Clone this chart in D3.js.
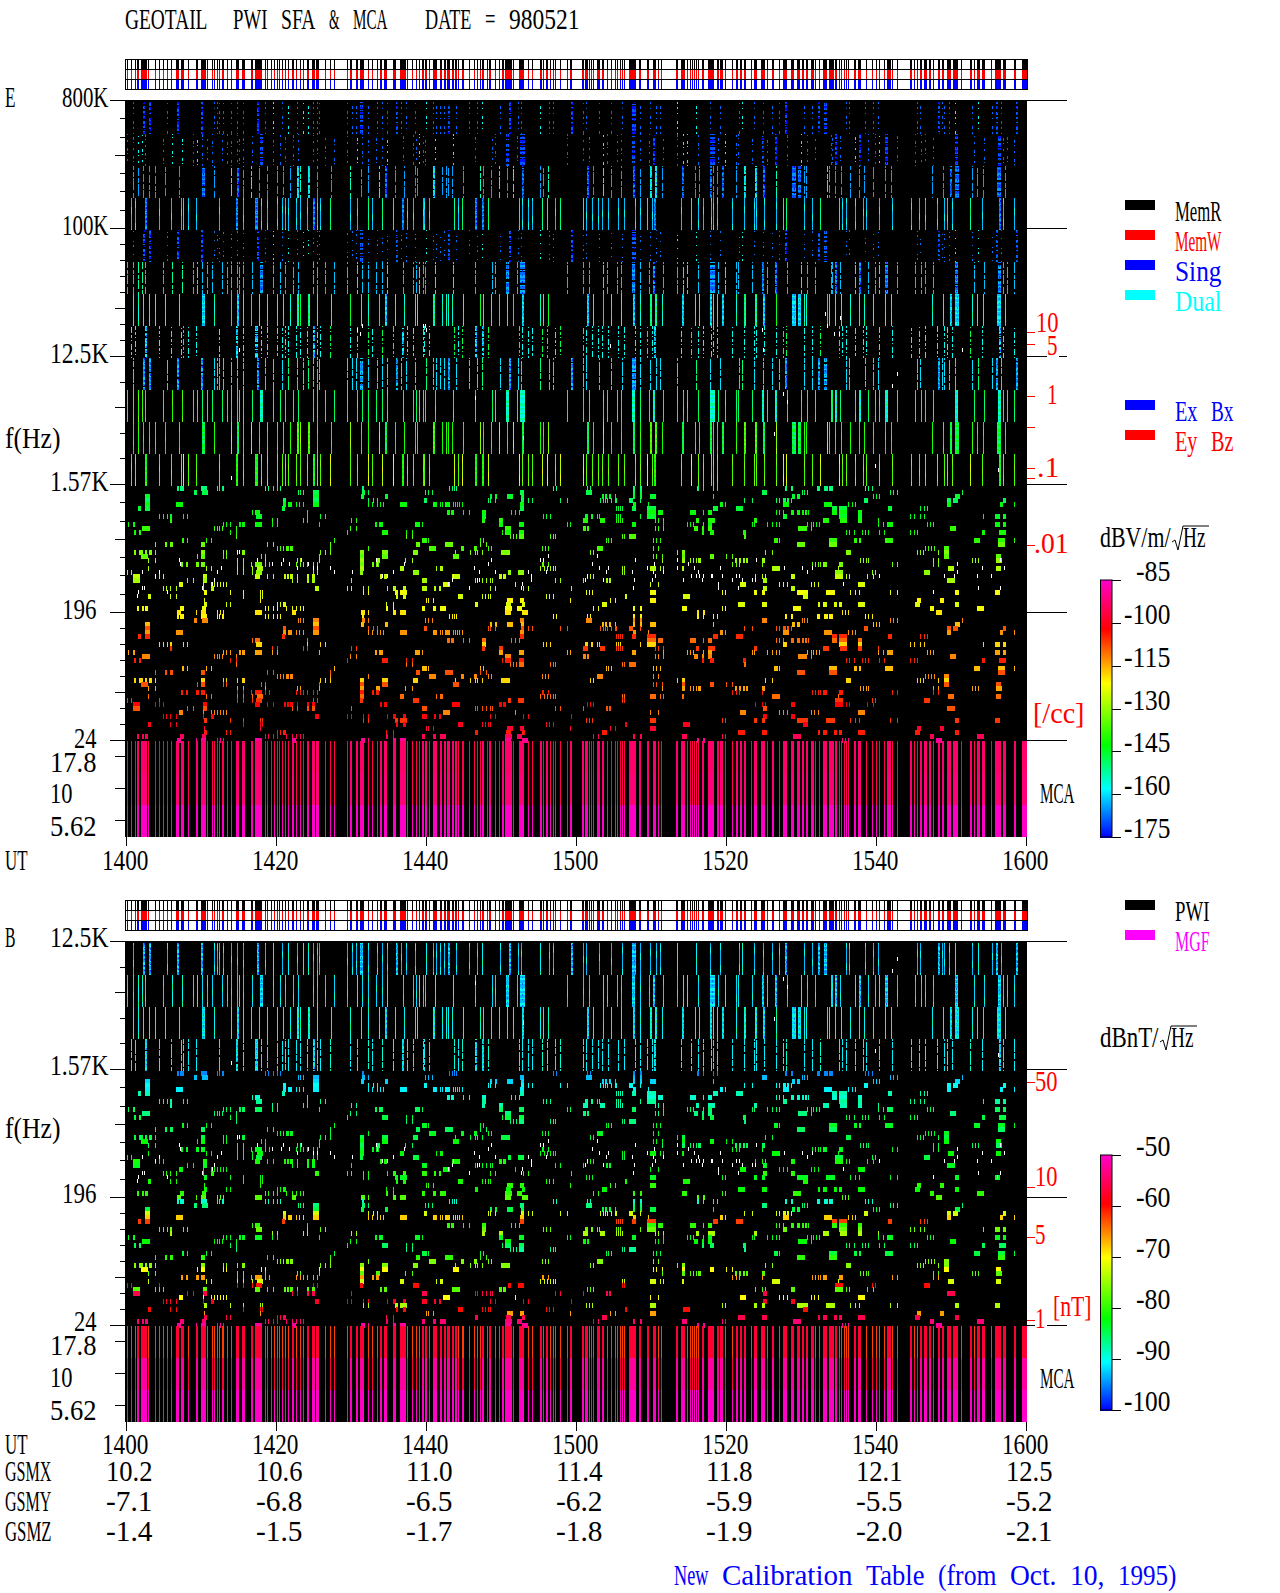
<!DOCTYPE html>
<html>
<head>
<meta charset="utf-8">
<title>GEOTAIL PWI SFA & MCA 980521</title>
<script src="https://cdn.jsdelivr.net/npm/d3@7/dist/d3.min.js"></script>
<style>
body { margin: 0; background: #fff; }
text { font-family: "Liberation Serif", serif; font-size: 29px; }
</style>
</head>
<body>
<script>
// samples are 8 s apart, counted from 1400 UT. a plain number is one sample, [n, w] is a run of w samples
var utTicks = ["1400", "1420", "1440", "1500", "1520", "1540", "1600"];
var gsmx = ["10.2", "10.6", "11.0", "11.4", "11.8", "12.1", "12.5"];
var gsmy = ["-7.1", "-6.8", "-6.5", "-6.2", "-5.9", "-5.5", "-5.2"];
var gsmz = ["-1.4", "-1.5", "-1.7", "-1.8", "-1.9", "-2.0", "-2.1"];

var bursts = [[1,1],[5,1],[9,1],[11,2],[15,3],[18,3],[22,1],[29,1],[33,1],[37,1],[41,1],[45,1],[50,3],[55,3],[62,1],[70,2],[75,5],[81,1],[86,1],[88,1],[91,1],[93,1],[96,1],[97,1],[101,1],[105,1],[110,3],[116,3],[125,2],[129,7],[139,1],[141,1],[145,1],[148,1],[151,1],[153,1],[156,1],[159,1],[162,1],[166,2],[170,1],[174,1],[177,1],[181,2],[186,3],[190,3],[199,1],[204,1],[208,1],[221,1],[224,2],[230,2],[234,4],[242,1],[246,1],[251,1],[254,2],[258,3],[267,3],[274,6],[281,1],[286,1],[290,1],[293,1],
[296,2],[299,2],[303,1],[307,4],[314,2],[318,2],[321,3],[326,2],[329,2],[332,1],[336,1],[337,1],[343,1],[348,1],[351,1],[354,1],[356,2],[361,1],[363,2],[369,1],[373,1],[376,2],[379,7],[387,1],[393,5],[402,1],[406,1],[414,2],[417,1],[420,2],[424,1],[427,1],[429,1],[434,1],[441,1],[444,2],[456,2],[459,3],[463,1],[465,1],[467,1],[471,3],[476,2],[481,1],[485,1],[489,1],[491,1],[494,1],[496,1],[498,1],[503,7],[513,2],[521,2],[527,3],[532,1],[535,1],[550,2],[555,4],[561,1],[564,1],[566,1],[568,1],[570,1],[572,1],[576,2],[582,6],[591,2],
[594,3],[599,1],[606,1],[610,2],[614,2],[618,2],[625,1],[628,3],[635,4],[641,1],[646,2],[653,1],[657,4],[665,3],[671,3],[676,2],[680,2],[685,3],[689,1],[693,1],[697,4],[703,5],[709,2],[713,1],[715,1],[718,1],[720,1],[722,1],[728,2],[732,3],[740,1],[746,1],[750,1],[753,1],[758,1],[761,4],[766,1],[771,1],[784,2],[788,1],[791,1],[794,2],[798,3],[803,2],[807,1],[812,2],[816,2],[821,4],[827,5],[835,1],[844,2],[848,1],[851,3],[856,3],[865,1],[869,6],[877,3],[888,2],[896,5]];

// streak groups, one per swept receiver band, the four repeat going down in frequency
var groupQ = [7,[17,2],[23,2],41,[51,2],[75,2],88,91,93,97,105,111,117,[131,2],139,147,156,162,171,177,182,187,191,193,221,226,230,[234,3],242,251,256,261,[270,2],275,280,289,
300,307,310,314,318,[322,2],330,343,351,356,374,[383,2],392,395,414,423,427,[445,2],457,460,473,485,496,[506,4],514,524,530,534,551,570,584,
594,613,616,628,637,646,653,[659,2],678,686,[692,2],[698,3],720,723,739,747,752,791,794,[812,2],816,818,823,829,846,852,866,[870,2],875,[890,2]];
var groupR = [1,7,12,16,19,37,46,56,67,71,76,81,86,96,101,105,111,113,117,126,[134,3],147,154,159,167,172,187,191,199,208,221,231,236,242,250,256,261,277,287,290,293,
297,299,309,327,349,366,369,[380,3],391,[394,5],441,457,463,477,481,491,495,[506,3],514,523,[527,2],537,551,557,561,572,[584,5],592,
599,610,612,626,[636,2],641,[649,2],661,675,681,689,705,706,[709,2],714,729,[733,2],742,749,753,[759,3],771,789,795,799,807,[829,3],848,858,[872,3],877,881,888];
var groupS = [7,12,17,23,29,39,53,[76,3],88,105,[111,2],117,125,133,141,151,157,164,[171,2],174,[182,2],191,205,224,235,242,253,[259,2],269,278,289,291,
[307,2],316,320,322,326,337,354,357,365,373,381,387,[396,2],414,417,422,[461,2],467,477,485,495,[507,2],514,[524,2],[529,2],536,[556,2],569,573,[584,2],587,591,
[596,2],610,[618,2],[629,2],[637,2],650,[666,4],[672,3],678,680,701,703,709,715,724,733,738,747,759,765,806,817,[824,2],[829,4],846,851,857,[871,4],879];
var groupP = [5,9,[19,2],33,45,55,57,62,70,93,[110,2],117,[129,3],135,141,151,156,159,162,170,174,181,[187,2],191,194,204,224,231,242,246,256,267,[276,2],281,287,
297,298,303,328,332,336,[349,2],[356,2],362,393,396,402,406,416,421,429,434,457,460,466,472,476,482,492,498,509,514,521,526,[528,2],555,565,572,577,585,587,591,
606,618,628,630,638,650,657,660,678,686,694,713,716,720,729,737,740,753,766,785,793,799,811,818,821,826,844,856,[873,2],877,888];

// streaks that read clearly stronger than the rest of their group
var hotQ = [147,162,177,182,300,356,414,551,570,616,657,829,852];
var hotR = [12,16,46,56,71,231,261,293,309,327,477,494,557,561,599,675,729,753];
var hotS = [105,125,159,171,174,182,224,253,307,354,373,387,422,477,494,524,529,618,629,650,701,818];
var hotP = [54,57,204,242,256,267,328,336,362,393,416,421,434,457,521,529,565,657,660,694,713,844];

// level of each band from 800K downward, dB
var bandLevelE = [-168, -168, -164, -162, -167, -162, -156, -157, -160, -150, -142, -137];
var bandLevelB = [-93, -92, -91, -91];

// below 1.57K the sweep is cut in single frequency rows, the 32 rows repeat for the next octaves
var lowRows = [
[[51,2],[54,2],[56,2],[75,6],91,93,96,97,139,142,147,151,154,[236,2],323,326,328,330,427,430,461,464,[507,2],[514,2],[571,2],577,587,591,[659,2],[665,2],[691,3],[698,4],[703,4],739,742,746],
[[68,3],[76,6],172,174,177,[187,6],[236,3],242,299,302,306,[394,4],[460,6],[507,2],[514,2],[636,5],676,678,681,764,767,771,836],
[[19,5],[187,6],[235,3],[259,3],[364,2],[369,2],[381,6],[395,3],[476,2],[479,2],[483,2],489,[507,2],[514,2],[524,6],587,[666,3],[671,3],747,750,753,[829,5]],
[[19,5],[157,3],[187,6],242,247,251,[298,3],362,364,369,[395,3],402,406,434,441,474,477,479,481,485,[489,2],[503,4],514,618,626,650,653,[657,3],[661,2],665,[738,4],[821,4],[827,5],[877,3]],
[[19,5],[50,7],[157,3],[162,4],170,173,177,[187,6],242,246,251,254,257,[274,7],[307,4],314,316,[319,5],327,329,331,333,336,[394,4],[507,3],522,[594,3],599,[657,4],[661,2],[698,8],722,726,729,[821,4],[874,3],888],
[[12,3],[19,5],[156,3],[394,4],490,492,494,496,[506,4],[521,9],[587,5],[610,7],[706,5],[713,8],[762,4],794,798,801],
[126,[129,5],181,[321,3],[325,3],337,343,[356,4],385,389,393,[521,9],[532,5],[564,6],577,[582,4],650,653,657,[665,3],[671,3],[676,2],[679,2],682,[706,5],[713,8],[732,4]],
[33,37,41,[44,2],57,61,[130,6],181,194,199,[356,4],417,420,424,[459,3],[465,2],471,473,490,492,494,514,[521,9],[657,4],[713,8],[732,4],784,788,794,798,857,[869,5],[877,3]],
[[44,2],146,151,177,181,225,230,[356,3],[373,4],[457,5],[474,5],490,492,494,496,529,532,537,[570,3],[582,7],[628,3],[697,6],[714,7],[732,4],752],
[2,[7,2],97,100,104,[113,2],[116,3],[129,7],146,151,193,[249,2],[253,4],[289,5],296,[373,4],[393,5],441,444,[506,4],537,561,564,567,577,[582,4],626,628,641,646,650,653,681,685,687,690,693,752,757,[761,6],801,804,807,[869,5],[877,3]],
[[16,8],88,91,93,96,110,224,230,[379,6],[457,3],[461,2],529,532,537,[568,4],[576,2],[582,4],[672,9],685,[824,6]],
[[8,2],[13,2],104,110,221,[256,6],280,286,376,[379,6],[393,5],[576,2],[584,4],[617,3],720,723,728,736,739,742,753,758,784,788,791,[856,3],[873,7]],
[110,280,286,384,387,390,[393,5],424,427,429,496,498,[503,7],[618,2]],
[[56,2],61,80,85,208,[296,5],302,354,357,480,482,485,527,530,534,[648,4],653,[703,8],[728,3],[733,2],[759,8],[848,3],[851,3],[872,7],888],
[29,[39,2],[44,3],[75,4],141,147,204,[290,4],[319,8],354,360,[671,8],[703,8],[872,7]],
[151,154,157,[160,3],[164,3],204,242,[303,7],[335,3],[348,3],362,365,416,419,422,[471,6],527,532,799,802,805,808,[818,5]],
[[8,2],[13,3],[15,2],[19,2],[23,3],29,[75,4],97,100,111,[116,3],194,199,204,[234,4],[256,6],[287,5],329,344,349,351,356,[375,9],464,467,551,[556,3],639,646,[720,5],791,794,797,812,[818,5]],
[[15,7],71,[75,4],97,100,135,139,193,[234,4],[256,6],[327,6],527,530,536,[556,3],[584,4],600,606,[818,5],[870,5]],
[22,29,111,117,139,171,174,193,[234,4],[250,4],279,286,536,[556,3],564,567,570,[572,3],[609,2],[613,2],[617,2],[620,2],[636,3],734,737,740,742,807,812,846,849,852,[870,6]],
[[55,2],[60,2],[70,3],[75,4],111,117,125,[129,7],139,143,170,174,177,181,187,191,[234,4],[246,2],[250,3],[416,2],422,606,610,613,636,686,689,692,694,[697,4],[713,4],766,771,807,812],
[22,80,85,111,117,126,[131,6],[234,4],[274,4],310,[314,3],414,418,421,424,427,429,496,498,[524,6],534,537,[556,2],[646,8],712,[822,6],[870,5]],
[1,5,33,111,117,126,[130,6],187,191,[234,3],[287,6],[382,3],[392,6],496,498,[709,8],746,749,[798,6]],
[[7,7],29,33,37,[77,4],[129,5],141,147,[158,2],[161,2],[164,2],166,171,[181,2],[186,3],[254,2],[258,3],[326,8],[373,3],[377,3],461,464,467,629,636,639,[665,4],[709,8],720,723,741,747],
[[7,7],61,67,[77,4],166,171,[181,2],[186,3],225,[296,5],349,351,356,360,364,366,429,434,457,[480,2],[483,2],[637,4],[821,8]],
[[53,4],77,85,88,91,94,97,100,[317,7],389,524,532,[614,6],653,657,661,685,688,692,[732,7]],
[37,40,44,50,77,[85,3],[189,4],221,225,237,242,261,[267,3],[277,3],[296,5],[308,2],[313,2],364,369,397,402,445,[637,4],[665,4]],
[[78,3],104,117,134,136,237,242,[269,3],[274,7],460,463,466,[524,6],596,599,[628,3],[636,3],[671,11],[700,9],724,729,733,764,771,[829,4],[869,5]],
[[22,3],44,50,117,134,136,[270,2],[277,3],[332,5],356,359,362,364,420,423,427,[499,2],[557,7],[677,5]],
[78,134,300,302,307,[381,6],[394,4],444,484,489,[524,6],[791,4],[814,4]],
[[78,3],100,104,151,154,157,[158,2],260,267,[349,3],[380,5],[396,3],[476,5],[612,7],[636,5],[692,2],[697,4],[708,3],[713,3],[732,7],[789,5],[829,4]],
[[11,2],[16,2],[19,3],[54,4],[76,4],139,142,147,151,160,166,170,174,177,[260,2],267,[296,3],[307,3],[314,6],[379,7],[391,5],467,472,[507,2],[514,2],[556,5],596,599,[667,8],[804,4],[851,7]],
[[51,4],70,[75,5],91,94,97,[129,7],[166,4],[235,4],242,[267,3],[274,6],[379,6],[396,6],[571,2],[577,2],716,719,722,[810,6]]
];

// level of every low row, two octave blocks of 32
var lowLevelE = [-150,-147,-145,-148,-143,-146,-142,-145,-140,-143,-138,-141,-136,-139,-134,-137,-132,-135,-130,-133,-128,-131,-126,-129,-124,-127,-122,-125,-120,-124,-122,-119,
-120,-112,-116,-108,-113,-105,-110,-118,-106,-114,-112,-104,-110,-116,-108,-112,-118,-108,-114,-104,-110,-106,-102,-108,-112,-101,-106,-100,-98,-104,-95,-89];
var lowLevelB = [-95,-93,-92,-90,-91,-88,-89,-87,-88,-85,-86,-84,-86,-83,-85,-83,-84,-82,-85,-83,-82,-84,-81,-83,-82,-80,-83,-81,-80,-82,-80,-78,
-89,-86,-84,-72,-68,-62,-80,-77,-74,-83,-82,-85,-87,-84,-80,-76,-76,-70,-78,-66,-72,-60,-78,-56,-70,-58,-74,-60,-66,-56,-54,-52];

// saturated dots in the sweep: [sample, low row]
var whiteLow = [[53,18],[54,19],[33,21],[91,21],[95,20],[111,16],[113,16],[16,21],[29,22],[88,23],[86,24],[76,25],[16,25],[18,25],[12,26],[11,27],[41,26],[131,18],[146,19],[157,18],[155,19],[163,19],[171,20],[175,18],[182,19],[187,20],[191,20],[204,20],[208,21],[226,21],[267,21],[278,19],[261,22],[256,22],[250,18],[251,19],
[365,18],[362,19],[348,20],[353,21],[369,21],[351,23],[353,23],[327,22],[326,23],[322,24],[343,25],[396,24],[395,25],[402,21],[405,22],[405,23],[414,18],[417,18],[422,17],[420,21],[471,17],[482,20],[473,20],[466,19],[461,22],[459,23],[480,21],[477,23],[509,18],[506,21],[508,23],[507,25],[521,20],[527,21],[529,22],[526,23],[528,19],[537,21],[551,18],[551,20],[557,23],[562,19],[568,20],[565,22],[570,22],[572,21],[573,22],[577,22],[576,23],[585,22],[586,22],[592,25],[592,24],
[630,18],[629,23],[626,23],[613,22],[610,22],[606,23],[596,22],[594,20],[612,25],[616,23],[658,20],[676,20],[681,21],[686,20],[717,24],[753,22],[807,26],[818,22],[831,19],[828,22],[831,21],[856,20],[851,22],[852,25],[865,22],[874,25],[871,26],[878,20],[874,18]];
// [sample, sweep row counted from 800K]
var whiteHigh = [[636,57],[637,62],[657,73],[661,75],[648,83],[699,53],[701,56],[708,58],[713,58],[714,54],[749,91],[771,68],[766,71],[836,62],[872,92],[236,56],[231,57],[234,58],[113,62],[105,94],[297,56],[299,56],[300,57],[349,74],[397,84],[484,61]];

var mcaLevelE = [-93, -92, -85];
var mcaLevelB = [-57, -52, -50];

var freqMajorE = [800000, 100000, 12500, 1570, 196, 24.41];
var freqMajorB = [12500, 1570, 196, 24.41];
var minorPerBlockE = [7, 8, 5, 7, 8];
var minorPerBlockB = [5, 7, 8];
var midTickE = [3, 5, 2, 3, 5];
var midTickB = [2, 3, 5];
var mcaFreq = [17.8, 10, 5.62];

var densityE = [18470, 15180, 6525, 3945, 2026, 1724, 580];
var densityB = [1265, 229.7, 102, 26.5];

var barTicksE = [-85, -100, -115, -130, -145, -160, -175];
var barTicksB = [-50, -60, -70, -80, -90, -100];

var colourStops = [0, 0.19, 0.36, 0.6, 0.81, 1];
var colourHex = ["#0000ff", "#00ffff", "#00ff00", "#ffff00", "#ff0000", "#ff00c8"];

var svg = d3.select("body").append("svg").attr("width", 1280).attr("height", 1593).style("display", "block");

var x = d3.scaleLinear().domain([0, 120]).range([126, 1026]);
var sampleMin = function(n) { return n * 8 / 60; };
var seg = function(d) { return Array.isArray(d) ? d : [d, 1]; };
var rowHz = function(r) { return 800000 * Math.pow(8, -r / 32); };

var colourE = d3.scaleLinear().domain(colourStops.map(function(f) { return -175 + 90 * f; })).range(colourHex);
var colourB = d3.scaleLinear().domain(colourStops.map(function(f) { return -100 + 50 * f; })).range(colourHex);

// every label in the original is a 12 px wide fixed pitch font, so each word is squeezed to its cell width
function mono(s, left, base, col, cw) {
  cw = cw || 12;
  var g = svg.append("g").attr("fill", col || "#000");
  var pos = 0;
  s.split(" ").forEach(function(w) {
    if (w.length) {
      var t = g.append("text").text(w);
      var sx = (w.length * cw - 1.5) / t.node().getComputedTextLength();
      t.attr("transform", "translate(" + (left + pos * cw) + "," + base + ") scale(" + sx + ",1)");
    }
    pos += w.length + 1;
  });
}

function streaks(g, list, hot, y0, y1, o, level, dash) {
  var data = list.map(seg);
  var mid = function(d) { return x(sampleMin(d[0])) + d[1] / 2; };
  var base = function(d) {
    var lv = d[1] > 1 ? level - o.wideDrop : level;
    return hot.indexOf(d[0]) >= 0 ? lv + o.hotRise : lv;
  };
  var draw = function(rows, col, wid, dsh, off) {
    g.append("g").selectAll("line").data(rows).enter().append("line")
      .attr("x1", mid).attr("x2", mid)
      .attr("y1", y0).attr("y2", y1)
      .attr("stroke", col)
      .attr("stroke-width", wid)
      .attr("stroke-dasharray", dsh)
      .attr("stroke-dashoffset", off);
  };
  var width = function(d) { return d[1]; };
  draw(data, function(d) { return o.colour(base(d)); }, width, dash, function(d) { return d[0] * 5; });
  // wide streaks are mottled, thin ones change tone along the sweep
  var wide = data.filter(function(d) { return d[1] > 1; });
  draw(wide, function(d) { return o.colour(base(d) + o.mottle); }, width, "2 3 1 4 3 2", function(d) { return d[0] * 3; });
  draw(wide, function(d) { return o.colour(base(d) - o.mottle); }, 1, "1 5 2 3", function(d) { return d[0]; });
  if (!dash) {
    draw(data.filter(function(d) { return d[1] === 1; }), function(d) { return o.colour(base(d) + o.mottle); }, 1, "7 15", function(d) { return d[0] * 7; });
  }
}

function statusStrip(top) {
  var rowH = 10;
  var g = svg.append("g").attr("shape-rendering", "crispEdges");
  ["#000", "#f00", "#00f"].forEach(function(c, i) {
    g.append("g").selectAll("rect").data(bursts).enter().append("rect")
      .attr("x", function(d) { return x(sampleMin(d[0])); })
      .attr("width", function(d) { return d[1]; })
      .attr("y", top + i * rowH).attr("height", rowH)
      .attr("fill", c);
  });
  [0, 1, 2, 3].forEach(function(i) {
    g.append("line").attr("x1", 125).attr("x2", 1027).attr("y1", top + i * rowH + 0.5).attr("y2", top + i * rowH + 0.5).attr("stroke", "#000");
  });
  [125.5, 1027].forEach(function(px) {
    g.append("line").attr("x1", px).attr("x2", px).attr("y1", top).attr("y2", top + 3 * rowH + 1).attr("stroke", "#000");
  });
}

function panel(o) {
  var y = o.y, yM = o.yM, colour = o.colour;
  statusStrip(o.stripTop);

  var bottom = yM(mcaFreq[2]) + 17;
  svg.append("rect").attr("x", 125).attr("width", 902).attr("y", o.top).attr("height", bottom - o.top).attr("fill", "#000");

  var g = svg.append("g").attr("shape-rendering", "crispEdges");

  // streak bands down to 1.57K
  var groups = [groupQ, groupR, groupS, groupP];
  var hots = [hotQ, hotR, hotS, hotP];
  o.bandLevel.forEach(function(level, i) {
    var b = o.firstBand + i;
    var r0 = 0.5 + 8 * b;
    streaks(g, groups[b % 4], hots[b % 4], y(rowHz(r0)), y(rowHz(r0 + 8)), o, level, o.bandDash[i]);
  });

  // single rows below 1.57K, both octave blocks
  o.lowLevel.forEach(function(level, i) {
    var top = y(rowHz(96.5 + i));
    g.append("g").selectAll("rect").data(lowRows[i % 32].map(seg)).enter().append("rect")
      .attr("x", function(d) { return x(sampleMin(d[0])); })
      .attr("width", function(d) { return d[1]; })
      .attr("y", top).attr("height", 5)
      .attr("fill", colour(level));
  });

  // white dots
  g.append("g").selectAll("rect").data(whiteLow).enter().append("rect")
    .attr("x", function(d) { return x(sampleMin(d[0])); })
    .attr("width", 1)
    .attr("y", function(d) { return y(rowHz(96.5 + d[1])); })
    .attr("height", 4).attr("fill", "#fff");
  g.append("g").selectAll("rect").data(whiteHigh.filter(function(d) { return d[1] > o.firstBand * 8; })).enter().append("rect")
    .attr("x", function(d) { return x(sampleMin(d[0])); })
    .attr("width", 1)
    .attr("y", function(d) { return y(rowHz(d[1])); })
    .attr("height", 4).attr("fill", "#fff");

  // MCA channels
  mcaFreq.forEach(function(f, i) {
    g.append("g").selectAll("rect").data(bursts).enter().append("rect")
      .attr("x", function(d) { return x(sampleMin(d[0])); })
      .attr("width", function(d) { return d[1]; })
      .attr("y", yM(f) - 15).attr("height", i === 2 ? 32 : 33)
      .attr("fill", function(d) { return colour(d[1] > 1 || i === 2 ? o.mcaLevel[i] : o.mcaLevel[i] - o.thinDrop); });
  });

  // axes
  var axisStyle = function(sel) {
    sel.select(".domain").remove();
    sel.selectAll("line").attr("stroke", "#000").attr("shape-rendering", "crispEdges");
    sel.selectAll("text").remove();
  };
  svg.append("g").attr("transform", "translate(125,0)")
    .call(d3.axisLeft(y).tickValues(o.major).tickSize(15)).call(axisStyle);
  svg.append("g").attr("transform", "translate(1027,0)")
    .call(d3.axisRight(y).tickValues(o.major).tickSize(40)).call(axisStyle);
  svg.append("g").attr("transform", "translate(125,0)")
    .call(d3.axisLeft(yM).tickValues(mcaFreq).tickSize(10)).call(axisStyle);
  var minor = [], mid = [];
  o.minor.forEach(function(n, b) {
    d3.range(1, n).forEach(function(k) {
      var hz = o.major[0] * Math.pow(8, -b) * Math.pow(8, -k / n);
      (k === o.midTick[b] ? mid : minor).push(hz);
    });
  });
  svg.append("g").attr("transform", "translate(125,0)")
    .call(d3.axisLeft(y).tickValues(minor).tickSize(5)).call(axisStyle);
  svg.append("g").attr("transform", "translate(125,0)")
    .call(d3.axisLeft(y).tickValues(mid).tickSize(10)).call(axisStyle);
  svg.append("g").attr("transform", "translate(0," + bottom + ")")
    .call(d3.axisBottom(x).tickValues(d3.range(0, 121, 20)).tickSize(9)).call(axisStyle);

  // UT labels
  mono("UT", 5, bottom + o.utDrop);
  utTicks.forEach(function(t, i) {
    mono(t, x(i * 20) - 24, bottom + o.utDrop);
  });

  // density scale in red
  var red = svg.append("g").attr("transform", "translate(1027,0)");
  red.call(d3.axisRight(y).tickValues(o.density).tickSize(8));
  red.select(".domain").remove();
  red.selectAll("text").remove();
  red.selectAll("line").attr("stroke", "#f00").attr("shape-rendering", "crispEdges");
}

// E panel
panel({
  y: d3.scaleLog().domain([800000, 24.41]).range([100, 740]),
  yM: d3.scaleLog().domain([17.8, 5.62]).range([756, 820]),
  top: 100, stripTop: 59, colour: colourE, utDrop: 33,
  firstBand: 0, bandLevel: bandLevelE, wideDrop: 6, hotRise: 10, mottle: 5,
  bandDash: ["2 4 1 7 3 3", "3 2 1 5 2 6", "8 2 5 1 12 3", null, "1 3 2 7 1 9", "11 2 4 1 9 3", null, "3 2 1 3 6 2", "14 1 6 2", null, null, null],
  lowLevel: lowLevelE, mcaLevel: mcaLevelE, thinDrop: 3,
  major: freqMajorE, minor: minorPerBlockE, midTick: midTickE, density: densityE
});

// B panel
panel({
  y: d3.scaleLog().domain([12500, 24.41]).range([941, 1325]),
  yM: d3.scaleLog().domain([17.8, 5.62]).range([1341, 1405]),
  top: 941, stripTop: 900, colour: colourB, utDrop: 32,
  firstBand: 8, bandLevel: bandLevelB, wideDrop: 1, hotRise: 2, mottle: 3,
  bandDash: [null, null, null, "14 1 6 2"],
  lowLevel: lowLevelB, mcaLevel: mcaLevelB, thinDrop: 5,
  major: freqMajorB, minor: minorPerBlockB, midTick: midTickB, density: densityB
});

// header and left labels
mono("GEOTAIL  PWI SFA & MCA   DATE = 980521", 125, 29);
mono("E", 5, 107);
mono("800K", 62, 107);
mono("100K", 62, 235);
mono("12.5K", 50, 363);
mono("1.57K", 50, 491);
mono("196", 62, 619);
mono("24", 74, 748);
mono("17.8", 50, 772);
mono("10", 50, 803);
mono("5.62", 50, 836);
mono("f(Hz)", 5, 448, "#000", 11.4);

mono("B", 5, 947);
mono("12.5K", 50, 947);
mono("1.57K", 50, 1075);
mono("196", 62, 1203);
mono("24", 74, 1331);
mono("17.8", 50, 1355);
mono("10", 50, 1387);
mono("5.62", 50, 1420);
mono("f(Hz)", 5, 1138, "#000", 11.4);

// red density labels, some on a white patch that cuts the major line
function redLabel(s, left, base, patch) {
  if (patch) {
    svg.append("rect").attr("x", left).attr("y", base - 20).attr("width", s.length * 12).attr("height", 24).attr("fill", "#fff");
  }
  mono(s, left, base, "#f00");
}
redLabel("10", 1036, 332);
redLabel("5", 1047, 355, true);
redLabel("1", 1047, 404);
redLabel(".1", 1037, 477);
redLabel(".01", 1034, 553);
mono("[/cc]", 1033, 723, "#f00", 10.6);
mono("MCA", 1040, 803);

redLabel("50", 1035, 1091);
redLabel("10", 1035, 1186);
redLabel("5", 1035, 1244);
redLabel("1", 1035, 1328, true);
mono("[nT]", 1053, 1316, "#f00", 10);
mono("MCA", 1040, 1388);

// legends
function legend(label, top, col) {
  svg.append("rect").attr("x", 1125).attr("y", top).attr("width", 30).attr("height", 10).attr("fill", col);
  mono(label, 1175, top + 21, col);
}
legend("MemR", 200, "#000");
legend("MemW", 230, "#f00");
legend("Sing", 260, "#00f");
legend("Dual", 290, "#0ff");
legend("Ex Bx", 400, "#00f");
legend("Ey Bz", 430, "#f00");
legend("PWI", 900, "#000");
legend("MGF", 930, "#f0f");

// unit labels with hand drawn radical
function unit(s, left, base) {
  var w = s.length * 12;
  mono(s, left, base);
  var rx = left + w;
  svg.append("path")
    .attr("d", d3.line()([[rx, base - 5], [rx + 3, base - 7], [rx + 6, base + 3], [rx + 11, base - 21], [rx + 37, base - 21]]))
    .attr("fill", "none").attr("stroke", "#000");
  mono("Hz", rx + 11, base);
}
unit("dBV/m/", 1100, 547);
unit("dBnT/", 1100, 1047);

// colour bars
function colourBar(ticks, y0, y1, colour) {
  var yb = d3.scaleLinear().domain([d3.max(ticks), d3.min(ticks)]).range([y0, y1]);
  var levels = d3.range(d3.min(ticks), d3.max(ticks), (d3.max(ticks) - d3.min(ticks)) / (y1 - y0));
  svg.append("g").attr("shape-rendering", "crispEdges").selectAll("rect").data(levels).enter().append("rect")
    .attr("x", 1100).attr("width", 12)
    .attr("y", function(d) { return yb(d) - 1; })
    .attr("height", 1.5)
    .attr("fill", function(d) { return colour(d); });
  svg.append("rect").attr("x", 1100.5).attr("y", y0).attr("width", 11.5).attr("height", y1 - y0).attr("fill", "none").attr("stroke", "#000");
  var ax = svg.append("g").attr("transform", "translate(1112,0)")
    .call(d3.axisRight(yb).tickValues(ticks).tickSize(9));
  ax.select(".domain").remove();
  ax.selectAll("text").remove();
  ax.selectAll("line").attr("stroke", "#000").attr("shape-rendering", "crispEdges");
  ticks.forEach(function(t) {
    var s = String(t);
    mono(s, 1172 - s.length * 12, yb(t) + 1);
  });
}
colourBar(barTicksE, 580, 837, colourE);
colourBar(barTicksB, 1155, 1410, colourB);

// orbit rows
[["GSMX", gsmx, 1481], ["GSMY", gsmy, 1511], ["GSMZ", gsmz, 1541]].forEach(function(r) {
  mono(r[0], 5, r[2]);
  r[1].forEach(function(v, i) {
    mono(v, x(i * 20) - 20, r[2]);
  });
});

mono("New Calibration Table (from Oct. 10, 1995)", 674, 1585, "#00f");
</script>
</body>
</html>
